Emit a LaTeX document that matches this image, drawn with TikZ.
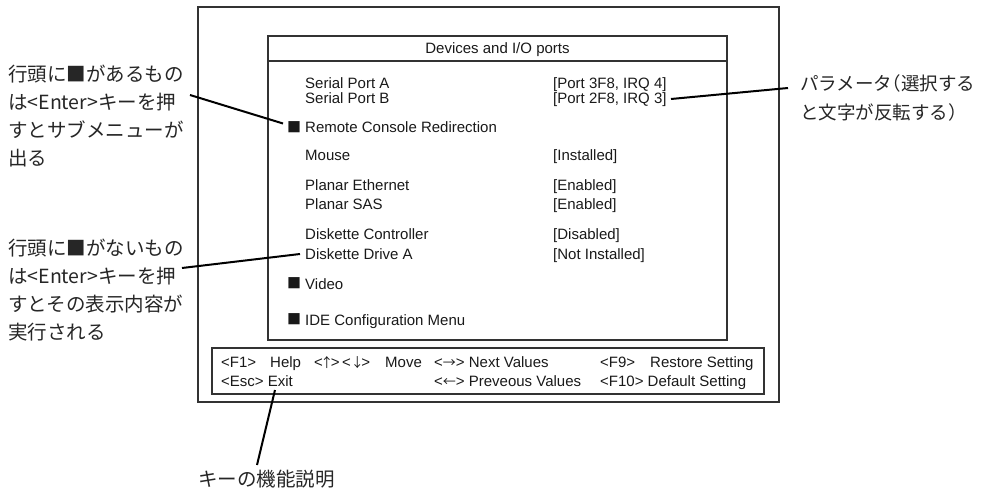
\documentclass[tikz,border=0pt]{standalone}
\usepackage{fontspec}
\setmainfont{Liberation Sans}
\newfontfamily\jpfont{Noto Sans CJK JP}
\newfontfamily\jphalt[RawFeature=+halt]{Noto Sans CJK JP}
\newcommand{\arr}[1]{{\jpfont\fontsize{13}{15}\selectfont#1}}
\newcommand{\narr}[1]{\makebox[8pt]{\arr{#1}}}
\begin{document}
\begin{tikzpicture}[x=1pt,y=-1pt,
  frame/.style={draw=black!80, line width=1.3pt},
  lead/.style={draw=black, line width=2pt},
  txt/.style={anchor=base west, inner sep=0pt, text=black!90, font=\fontsize{15}{17}\selectfont},
  sqm/.style={anchor=center, inner sep=0pt, text=black!90, font=\jpfont\fontsize{14}{17}\selectfont},
  jtxt/.style={anchor=north west, inner sep=0pt, align=left, text=black!85, font=\jpfont\fontsize{19.5}{28}\selectfont}]
\useasboundingbox (0,0) rectangle (982,489);
% frames
\draw[frame] (198,7) rectangle (779,402);
\draw[frame] (268,36) rectangle (727,340);
\draw[frame] (268,61) -- (727,61);
\draw[frame] (212,348) rectangle (764,394);
% title
\node[txt, anchor=base] (title) at (497.5,54) {Devices and I/O ports};
% menu rows
\node[txt] (spa) at (305,89) {Serial Port A};
\node[txt] (spav) at (553,89) {[Port 3F8, IRQ 4]};
\node[txt] (spb) at (305,104) {Serial Port B};
\node[txt] (spbv) at (553,104) {[Port 2F8, IRQ 3]};
\node[sqm] (rcrsq) at (294,127.5) {■};
\node[txt] (rcr) at (305,133) {Remote Console Redirection};
\node[txt] (mouse) at (305,161) {Mouse};
\node[txt] (mousev) at (553,161) {[Installed]};
\node[txt] (pe) at (305,191) {Planar Ethernet};
\node[txt] (pev) at (553,191) {[Enabled]};
\node[txt] (sas) at (305,210) {Planar SAS};
\node[txt] (sasv) at (553,210) {[Enabled]};
\node[txt] (dc) at (305,240) {Diskette Controller};
\node[txt] (dcv) at (553,240) {[Disabled]};
\node[txt] (dd) at (305,259) {Diskette Drive A};
\node[txt] (ddv) at (553,259) {[Not Installed]};
\node[sqm] (vidsq) at (294,283.5) {■};
\node[txt] (vid) at (305,289) {Video};
\node[sqm] (idesq) at (294,319.5) {■};
\node[txt] (ide) at (305,325) {IDE Configuration Menu};
% key help
\node[txt] (kf1) at (221,367) {<F1>};
\node[txt] (khelp) at (270,367) {Help};
\node[txt] (kud) at (314,367) {<\narr{↑}>\,<\,\narr{↓}>};
\node[txt] (kmove) at (385,367) {Move};
\node[txt] (knext) at (434,367) {<\arr{→}>\ Next Values};
\node[txt] (kf9) at (600,367) {<F9>};
\node[txt] (krest) at (650,367) {Restore Setting};
\node[txt] (kesc) at (221,386.5) {<Esc> Exit};
\node[txt] (kprev) at (434,386.5) {<\arr{←}>\ Preveous Values};
\node[txt] (kf10) at (600,386.5) {<F10> Default Setting};
% annotations
\node[jtxt] (ann1) at (8,65) {行頭に■があるもの\\は<Enter>キーを押\\すとサブメニューが\\出る};
\node[jtxt] (ann2) at (8,238.5) {行頭に■がないもの\\は<Enter>キーを押\\すとその表示内容が\\実行される};
\node[jtxt, font=\jphalt\fontsize{18.5}{29}\selectfont] (ann3) at (800,74) {パラメータ（選択する\\と文字が反転する）};
\node[jtxt] (ann4) at (198,469.5) {キーの機能説明};
% leader lines
\coordinate (l1a) at (190,95);
\coordinate (l1b) at (283,123.5);
\coordinate (l2a) at (182,268);
\coordinate (l2b) at (300,254);
\coordinate (l3a) at (788,88);
\coordinate (l3b) at (671,99);
\coordinate (l4a) at (275,390);
\coordinate (l4b) at (257,465);
\draw[lead] (l1a) -- (l1b);
\draw[lead] (l2a) -- (l2b);
\draw[lead] (l3a) -- (l3b);
\draw[lead] (l4a) -- (l4b);
\end{tikzpicture}
\end{document}
